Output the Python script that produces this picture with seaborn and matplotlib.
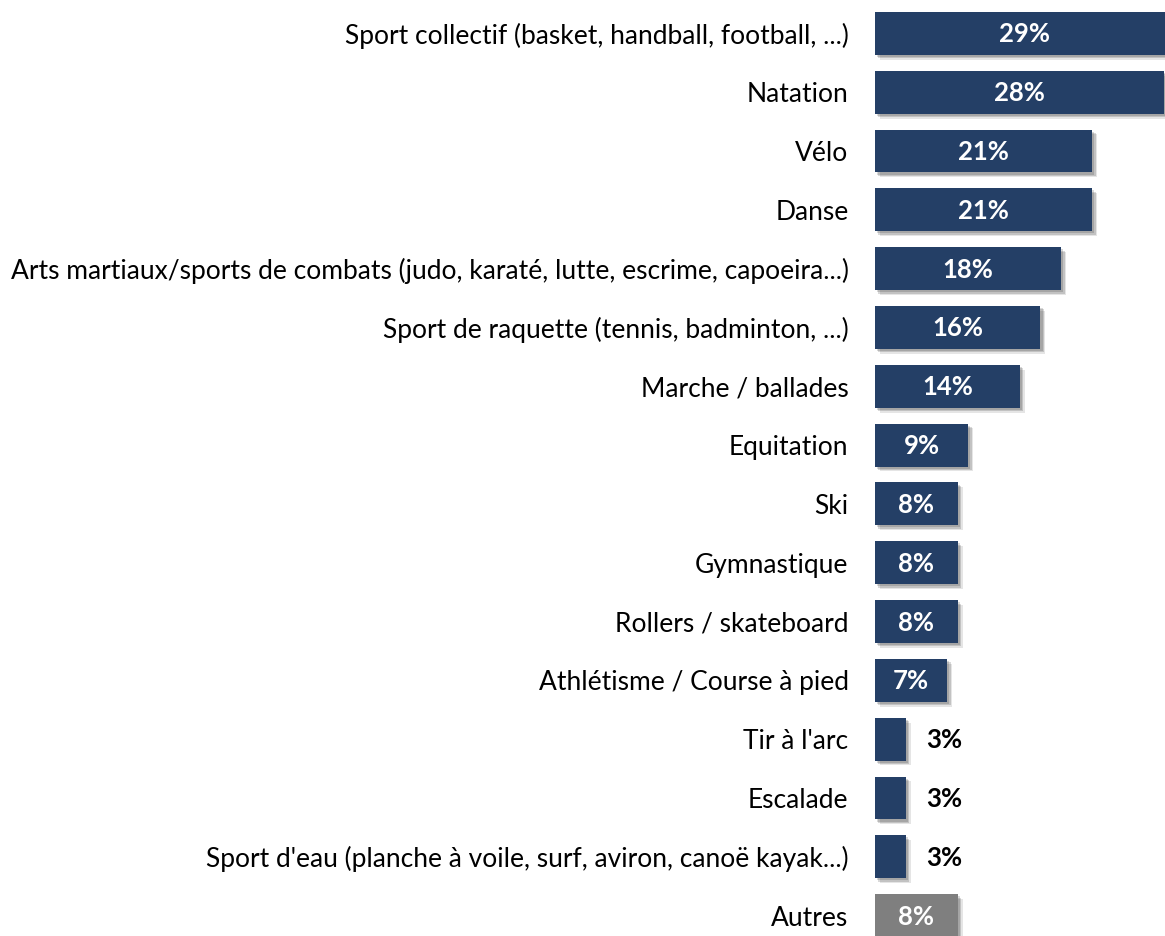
import matplotlib
matplotlib.use("Agg")
import matplotlib.pyplot as plt
import matplotlib.patheffects as pe
import seaborn as sns
import pandas as pd

categories = [
    "Sport collectif (basket, handball, football, ...)",
    "Natation",
    "Vélo",
    "Danse",
    "Arts martiaux/sports de combats (judo, karaté, lutte, escrime, capoeira...)",
    "Sport de raquette (tennis, badminton, ...)",
    "Marche / ballades",
    "Equitation",
    "Ski",
    "Gymnastique",
    "Rollers / skateboard",
    "Athlétisme / Course à pied",
    "Tir à l'arc",
    "Escalade",
    "Sport d'eau (planche à voile, surf, aviron, canoë kayak...)",
    "Autres",
]
values = [29, 28, 21, 21, 18, 16, 14, 9, 8, 8, 8, 7, 3, 3, 3, 8]

NAVY = "#243F66"
GREY = "#7F7F7F"
bar_colors = [NAVY] * (len(categories) - 1) + [GREY]

sns.set_theme(style="white")
plt.rcParams["font.family"] = ["Lato", "DejaVu Sans"]

df = pd.DataFrame({"activite": categories, "pct": values})

fig = plt.figure(figsize=(11.65, 9.36), dpi=100)
ax = fig.add_axes([875 / 1165, (936 - 945) / 936, 290 / 1165, 941 / 936])

sns.barplot(
    data=df, x="pct", y="activite", hue="activite",
    palette=bar_colors, orient="h", width=0.73,
    legend=False, ax=ax, saturation=1,
)

shadow = [
    pe.SimplePatchShadow(offset=(3.5, -3.5), shadow_rgbFace="#000000", alpha=0.10),
    pe.SimplePatchShadow(offset=(2.5, -2.5), shadow_rgbFace="#000000", alpha=0.15),
    pe.SimplePatchShadow(offset=(1.5, -1.5), shadow_rgbFace="#000000", alpha=0.15),
    pe.Normal(),
]
for patch in ax.patches:
    patch.set_path_effects(shadow)
    patch.set_edgecolor("none")

ax.set_xlim(0, 28.05)
ax.set_ylim(len(categories) - 0.5, -0.5)

for i, v in enumerate(values):
    label = f"{v}%"
    if v >= 5:
        ax.annotate(label, xy=(v / 2, i), xytext=(0, -1), textcoords="offset pixels",
                    ha="center", va="center", color="white",
                    fontsize=18.5, fontweight="bold")
    else:
        ax.annotate(label, xy=(v, i), xytext=(20, -1), textcoords="offset pixels",
                    ha="left", va="center", color="black",
                    fontsize=18.5, fontweight="bold")

ax.set_xlabel("")
ax.set_ylabel("")
ax.set_xticks([])
ax.tick_params(axis="y", length=0, pad=19, labelsize=19, labelcolor="black")
for s in ax.spines.values():
    s.set_visible(False)
ax.set_facecolor("none")

fig.savefig("out.png", dpi=100, facecolor="white")
